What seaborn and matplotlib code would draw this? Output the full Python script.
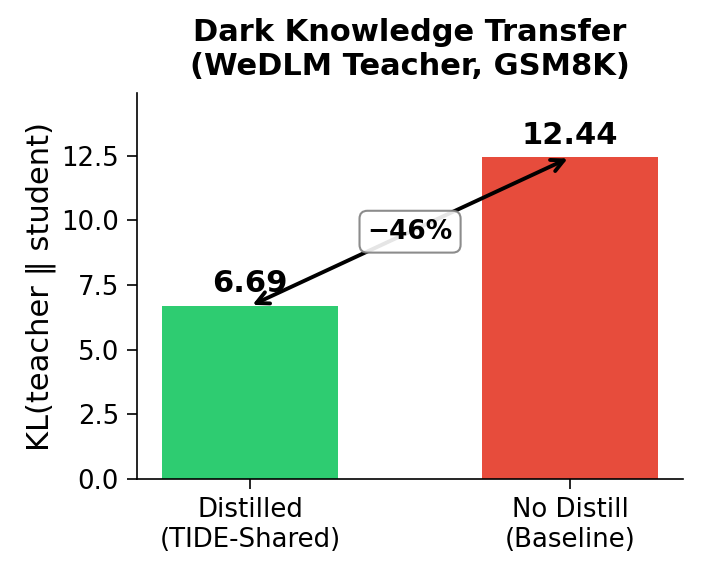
import pandas as pd
import numpy as np
import matplotlib
matplotlib.use("Agg")
import matplotlib.pyplot as plt
from matplotlib.ticker import MultipleLocator, FormatStrFormatter
import seaborn as sns

# Bar data
methods = ["Distilled\n(TIDE-Shared)", "No Distill\n(Baseline)"]
kl_values = [6.69, 12.44]
bar_colors = ["#2ecc71", "#e74c3c"]

df = pd.DataFrame({"method": methods, "kl": kl_values})

plt.rcParams['font.family'] = ['DejaVu Sans']

fig, ax = plt.subplots(figsize=(7.03, 5.77), dpi=100)
fig.subplots_adjust(left=0.195, right=0.9716, bottom=0.1698, top=0.8388)

sns.barplot(data=df, x="method", y="kl", hue="method", palette=bar_colors,
            width=0.55, saturation=1, legend=False, ax=ax)

# value labels on top of bars
for i, v in enumerate(kl_values):
    ax.text(i, v + 0.3, f"{v:.2f}", ha="center", va="bottom",
            fontsize=22, fontweight="bold", color="black")

# double arrow between the bar tops with reduction label
ax.annotate("", xy=(1, kl_values[1]), xytext=(0, kl_values[0]),
            arrowprops=dict(arrowstyle="<->", color="black", lw=2.8,
                            mutation_scale=22))
reduction = (kl_values[1] - kl_values[0]) / kl_values[1] * 100
ax.text(0.5, (kl_values[0] + kl_values[1]) / 2, f"\u2212{reduction:.0f}%",
        ha="center", va="center", fontsize=19, fontweight="bold",
        bbox=dict(boxstyle="round,pad=0.3", facecolor="white",
                  edgecolor="gray", lw=1.5, alpha=0.9))

ax.set_xlim(-0.3525, 1.3525)
ax.set_ylim(0, max(kl_values) * 1.2)
ax.yaxis.set_major_locator(MultipleLocator(2.5))
ax.yaxis.set_major_formatter(FormatStrFormatter("%.1f"))
ax.set_xlabel("")
ax.set_ylabel("KL(teacher \u2016 student)", fontsize=22)
ax.set_title("Dark Knowledge Transfer\n(WeDLM Teacher, GSM8K)",
             fontsize=22, fontweight="bold", pad=13)
ax.tick_params(axis="both", labelsize=18.7, length=7, width=1.2,
               pad=6, colors="black")
for side in ["left", "bottom"]:
    ax.spines[side].set_linewidth(1.2)
sns.despine(ax=ax)

plt.savefig("out.png", dpi=100)
